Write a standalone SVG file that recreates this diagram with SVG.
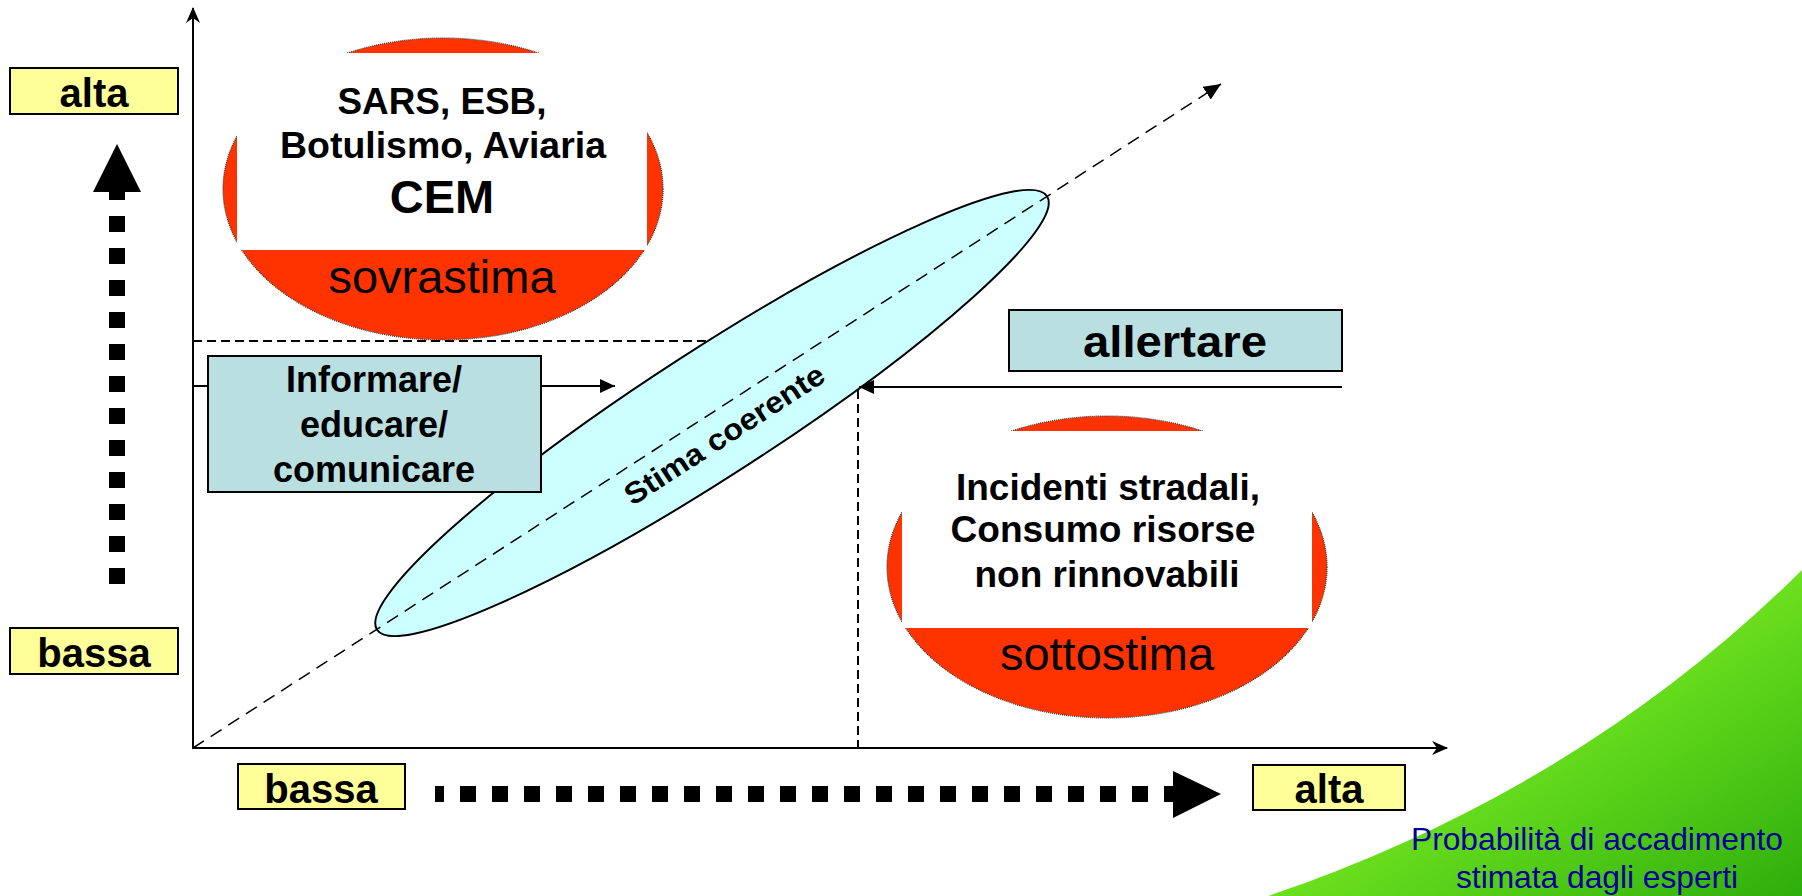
<svg xmlns="http://www.w3.org/2000/svg" width="1802" height="896" viewBox="0 0 1802 896">
<style>
  .lbl{font-family:"Liberation Sans",Arial,sans-serif;font-weight:bold;fill:#000;text-anchor:middle}
  .reg{font-family:"Liberation Sans",Arial,sans-serif;fill:#000;text-anchor:middle}
  .ybox{fill:#FFFF99;stroke:#000;stroke-width:2}
  .bbox{fill:#B9DFE1;stroke:#000;stroke-width:2}
  .red{fill:#FF3300;stroke:#333;stroke-width:1.2;stroke-dasharray:1 1}
  .axis{stroke:#000;stroke-width:2;fill:none}
  .dash{stroke:#000;stroke-width:2;fill:none;stroke-dasharray:9 5}
  .thin{stroke:#000;stroke-width:2;fill:none}
  .big{stroke:#000;stroke-width:16;fill:none;stroke-dasharray:16 16}
</style>
<defs>
  <marker id="stealth" viewBox="0 0 16 14" refX="15" refY="7" markerWidth="16" markerHeight="14" orient="auto" markerUnits="userSpaceOnUse">
    <path d="M0,0 L16,7 L0,14 L5,7 Z" fill="#000"/>
  </marker>
  <marker id="tri" viewBox="0 0 15 14" refX="15" refY="7" markerWidth="15" markerHeight="14" orient="auto" markerUnits="userSpaceOnUse">
    <path d="M0,0 L15,7 L0,14 Z" fill="#000"/>
  </marker>
  <marker id="tri2" viewBox="0 0 17 15" refX="17" refY="7.5" markerWidth="17" markerHeight="15" orient="auto" markerUnits="userSpaceOnUse">
    <path d="M0,0 L17,7.5 L0,15 Z" fill="#000"/>
  </marker>
  <linearGradient id="grn" x1="0" y1="0" x2="1" y2="1">
    <stop offset="0" stop-color="#9CF23A"/>
    <stop offset="0.45" stop-color="#72E620"/>
    <stop offset="1" stop-color="#2EAE0C"/>
  </linearGradient>
</defs>

<g id="background">
  <path d="M1268,896 Q1580,790 1802,570 L1802,896 Z" fill="url(#grn)"/>
</g>

<g id="connectors">
  <line class="axis" x1="193" y1="749" x2="193" y2="8" marker-end="url(#stealth)"/>
  <line class="axis" x1="192" y1="748" x2="1447" y2="748" marker-end="url(#stealth)"/>
  <line class="dash" x1="193" y1="341" x2="760" y2="341"/>
  <line class="dash" x1="858" y1="390" x2="858" y2="748"/>
</g>

<g id="node-sovrastima">
  <ellipse class="red" cx="443" cy="189" rx="220" ry="151"/>
  <rect x="237" y="53" width="410" height="197" fill="#fff"/>
  <text class="lbl" x="442" y="114" font-size="37" textLength="209" lengthAdjust="spacingAndGlyphs">SARS, ESB,</text>
  <text class="lbl" x="443" y="158" font-size="37" textLength="326" lengthAdjust="spacingAndGlyphs">Botulismo, Aviaria</text>
  <text class="lbl" x="442" y="213" font-size="47">CEM</text>
  <text class="reg" x="442" y="293" font-size="47">sovrastima</text>
</g>

<g id="node-sottostima">
  <ellipse class="red" cx="1107" cy="567" rx="220" ry="151"/>
  <rect x="902" y="431" width="410" height="197" fill="#fff"/>
  <text class="lbl" x="1108" y="500" font-size="37" textLength="304" lengthAdjust="spacingAndGlyphs">Incidenti stradali,</text>
  <text class="lbl" x="1103" y="542" font-size="37" textLength="305" lengthAdjust="spacingAndGlyphs">Consumo risorse</text>
  <text class="lbl" x="1107" y="587" font-size="37" textLength="265" lengthAdjust="spacingAndGlyphs">non rinnovabili</text>
  <text class="reg" x="1107" y="670" font-size="47">sottostima</text>
</g>

<g id="node-stima">
  <ellipse cx="712" cy="413" rx="399" ry="63" transform="rotate(-32.9 712 413)" fill="#CCFFFF" stroke="#000" stroke-width="2"/>
  <g transform="translate(724 434) rotate(-32.9)">
    <text class="lbl" x="0" y="11" font-size="30" textLength="232" lengthAdjust="spacingAndGlyphs">Stima coerente</text>
  </g>
</g>

<g id="connectors-top">
  <line x1="193" y1="748" x2="1221" y2="84" stroke="#000" stroke-width="1.5" stroke-dasharray="13 8" marker-end="url(#tri2)"/>
  <line class="thin" x1="193" y1="386" x2="615" y2="386" marker-end="url(#tri)"/>
  <line class="thin" x1="1342" y1="387" x2="859" y2="387" marker-end="url(#tri)"/>
  <line class="big" x1="117" y1="584" x2="117" y2="192"/>
  <polygon points="117,144 141,192 93,192" fill="#000"/>
  <line class="big" x1="435" y1="794" x2="1180" y2="794" stroke-dashoffset="7"/>
  <polygon points="1221,794 1173,771 1173,818" fill="#000"/>
</g>

<g id="node-informare">
  <rect class="bbox" x="208" y="356" width="333" height="136"/>
  <text class="lbl" x="374" y="392" font-size="36">Informare/</text>
  <text class="lbl" x="374" y="437" font-size="36">educare/</text>
  <text class="lbl" x="374" y="482" font-size="36">comunicare</text>
</g>

<g id="node-allertare">
  <rect class="bbox" x="1009" y="310" width="333" height="61"/>
  <text class="lbl" x="1175" y="357" font-size="44" textLength="184" lengthAdjust="spacingAndGlyphs">allertare</text>
</g>

<g id="node-alta-y">
  <rect class="ybox" x="10" y="68" width="168" height="46"/>
  <text class="lbl" x="94" y="107" font-size="40">alta</text>
</g>
<g id="node-bassa-y">
  <rect class="ybox" x="10" y="628" width="168" height="46"/>
  <text class="lbl" x="94" y="667" font-size="40">bassa</text>
</g>
<g id="node-bassa-x">
  <rect class="ybox" x="238" y="764" width="167" height="45"/>
  <text class="lbl" x="321" y="803" font-size="40">bassa</text>
</g>
<g id="node-alta-x">
  <rect class="ybox" x="1253" y="765" width="152" height="45"/>
  <text class="lbl" x="1329" y="803" font-size="40">alta</text>
</g>

<g id="caption">
  <text class="reg" x="1597" y="850" font-size="32" fill="#000099" style="fill:#000099" textLength="372" lengthAdjust="spacingAndGlyphs">Probabilità di accadimento</text>
  <text class="reg" x="1597" y="888" font-size="32" style="fill:#000099" textLength="282" lengthAdjust="spacingAndGlyphs">stimata dagli esperti</text>
</g>
</svg>
